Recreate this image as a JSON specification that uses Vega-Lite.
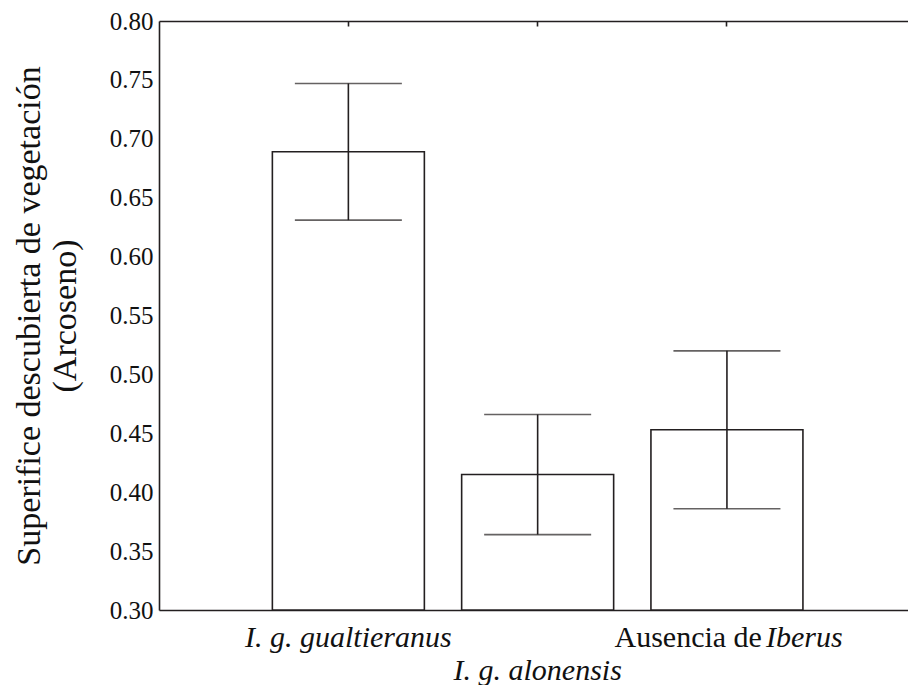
{
  "$schema": "https://vega.github.io/schema/vega-lite/v6.json",
  "width": 749,
  "height": 589,
  "autosize": {"type": "none"},
  "padding": {"left": 159, "top": 21, "right": 0, "bottom": 75},
  "background": "white",
  "config": {
    "view": {"stroke": null},
    "font": "Liberation Serif",
    "axis": {"grid": false, "domainColor": "#231f20", "domainWidth": 1.6, "tickColor": "#231f20", "tickWidth": 1.6, "labelColor": "#111111", "titleColor": "#111111", "labelFont": "Liberation Serif", "titleFont": "Liberation Serif"}
  },
  "data": {
    "values": [
      {"grupo": "I. g. gualtieranus", "media": 0.689, "inf": 0.631, "sup": 0.747},
      {"grupo": "I. g. alonensis", "media": 0.415, "inf": 0.364, "sup": 0.466},
      {"grupo": "Ausencia de Iberus", "media": 0.453, "inf": 0.386, "sup": 0.520}
    ]
  },
  "resolve": {"axis": {"x": "independent"}},
  "layer": [
    {
      "mark": {"type": "bar", "fill": "white", "stroke": "#231f20", "strokeWidth": 1.6},
      "encoding": {
        "x": {
          "field": "grupo", "type": "nominal", "sort": null,
          "scale": {"type": "band", "paddingInner": 0.197, "paddingOuter": 0.577, "align": 0.519},
          "axis": {
            "orient": "bottom", "title": null, "domain": true, "ticks": false,
            "labelExpr": "datum.value == 'Ausencia de Iberus' ? 'Iberus' : datum.value",
            "labelFontStyle": "italic", "labelFontSize": 30, "labelAngle": 0,
            "labelBaseline": "alphabetic", "labelLimit": 0, "labelOverlap": false, "labelBound": false, "labelFlush": false,
            "labelAlign": {"condition": {"test": "datum.value == 'Ausencia de Iberus'", "value": "left"}, "value": "center"},
            "labelOffset": {"condition": {"test": "datum.value == 'Ausencia de Iberus'", "value": 39}, "value": 0},
            "labelPadding": {"condition": {"test": "datum.value == 'I. g. alonensis'", "value": 69}, "value": 36}
          }
        },
        "y": {
          "field": "media", "type": "quantitative",
          "scale": {"domain": [0.3, 0.8], "nice": false, "zero": false},
          "axis": {"title": ["Superifice descubierta de vegetación", "(Arcoseno)"], "values": [0.3, 0.35, 0.4, 0.45, 0.5, 0.55, 0.6, 0.65, 0.7, 0.75, 0.8], "format": ".2f", "ticks": false, "domain": true, "labelFontSize": 25, "labelPadding": 6, "titleFontSize": 34, "titleFontWeight": "normal", "titleLineHeight": 36, "titlePadding": 27}
        },
        "y2": {"datum": 0.3}
      }
    },
    {
      "mark": {"type": "rule", "stroke": "#231f20", "strokeWidth": 1.6},
      "encoding": {
        "x": {
          "field": "grupo", "type": "nominal", "sort": null,
          "axis": {"orient": "top", "title": null, "domain": true, "ticks": true, "tickSize": -5, "labels": false}
        },
        "y": {
          "field": "inf", "type": "quantitative",
          "axis": {"title": ["Superifice descubierta de vegetación", "(Arcoseno)"], "values": [0.3, 0.35, 0.4, 0.45, 0.5, 0.55, 0.6, 0.65, 0.7, 0.75, 0.8], "format": ".2f", "ticks": false, "domain": true, "labelFontSize": 25, "labelPadding": 6, "titleFontSize": 34, "titleFontWeight": "normal", "titleLineHeight": 36, "titlePadding": 27}
        },
        "y2": {"field": "sup"}
      }
    },
    {
      "mark": {"type": "tick", "color": "#231f20", "size": 107, "thickness": 1.6, "orient": "horizontal"},
      "encoding": {
        "x": {
          "field": "grupo", "type": "nominal", "sort": null,
          "axis": {"orient": "bottom", "title": null, "domain": false, "ticks": true, "tickSize": -5, "labels": false}
        },
        "y": {
          "field": "sup", "type": "quantitative",
          "axis": {"title": ["Superifice descubierta de vegetación", "(Arcoseno)"], "values": [0.3, 0.35, 0.4, 0.45, 0.5, 0.55, 0.6, 0.65, 0.7, 0.75, 0.8], "format": ".2f", "ticks": false, "domain": true, "labelFontSize": 25, "labelPadding": 6, "titleFontSize": 34, "titleFontWeight": "normal", "titleLineHeight": 36, "titlePadding": 27}
        }
      }
    },
    {
      "mark": {"type": "tick", "color": "#231f20", "size": 107, "thickness": 1.6, "orient": "horizontal"},
      "encoding": {
        "x": {
          "field": "grupo", "type": "nominal", "sort": null,
          "axis": {
            "orient": "bottom", "title": null, "domain": false, "ticks": false,
            "labelExpr": "datum.value == 'Ausencia de Iberus' ? 'Ausencia de' : ''",
            "labelFontStyle": "normal", "labelFontSize": 30, "labelAngle": 0,
            "labelBaseline": "alphabetic", "labelLimit": 0, "labelOverlap": false, "labelBound": false, "labelFlush": false,
            "labelAlign": "right", "labelOffset": 35, "labelPadding": 36
          }
        },
        "y": {
          "field": "inf", "type": "quantitative",
          "axis": {"title": ["Superifice descubierta de vegetación", "(Arcoseno)"], "values": [0.3, 0.35, 0.4, 0.45, 0.5, 0.55, 0.6, 0.65, 0.7, 0.75, 0.8], "format": ".2f", "ticks": false, "domain": true, "labelFontSize": 25, "labelPadding": 6, "titleFontSize": 34, "titleFontWeight": "normal", "titleLineHeight": 36, "titlePadding": 27}
        }
      }
    }
  ]
}
